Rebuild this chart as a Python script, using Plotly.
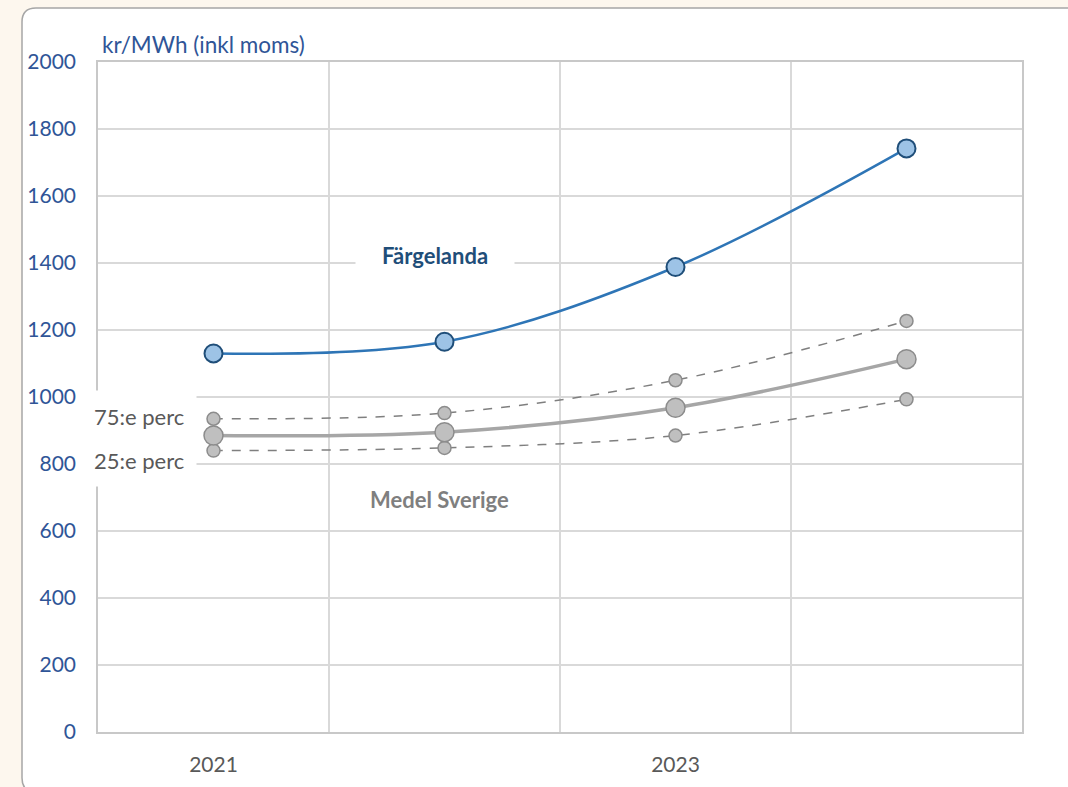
import plotly.graph_objects as go

# Electricity price, kr/MWh incl. VAT
years = [2021, 2022, 2023, 2024]
fargelanda = [1130, 1165, 1388, 1742]
medel_sverige = [885, 895, 968, 1113]
perc_75 = [935, 952, 1050, 1227]
perc_25 = [840, 848, 885, 993]

x_ticks = [2021, 2023]
x_tick_text = ["2021", "2023"]

FONT = "Lato"
BLUE_TEXT = "#2f5597"
GREY_TEXT = "#595959"

fig = go.Figure()

for vals in (perc_75, perc_25):
    fig.add_trace(go.Scatter(
        x=years, y=vals, mode="lines+markers",
        line=dict(color="#7f7f7f", width=1.5, dash="dash", shape="spline", smoothing=1),
        marker=dict(size=13, color="#bfbfbf", line=dict(color="#8c8c8c", width=1.5)),
        hoverinfo="skip", showlegend=False,
    ))

fig.add_trace(go.Scatter(
    x=years, y=medel_sverige, mode="lines+markers", name="Medel Sverige",
    line=dict(color="#a6a6a6", width=3.5, shape="spline", smoothing=1),
    marker=dict(size=19, color="#bfbfbf", line=dict(color="#8c8c8c", width=1.5)),
    showlegend=False,
))

fig.add_trace(go.Scatter(
    x=years, y=fargelanda, mode="lines+markers", name="Färgelanda",
    line=dict(color="#2e75b6", width=2.5, shape="spline", smoothing=1),
    marker=dict(size=18, color="#9dc3e6", line=dict(color="#1f4e79", width=2)),
    showlegend=False,
))

# Rounded white panel behind the chart
L, R, T, B = 98, 46, 62, 55
W, H = 1068, 787
pw, ph = W - L - R, H - T - B
def px(xp):
    return (xp - L) / pw
def py(yp):
    return (H - B - yp) / ph
x0, xr = px(22), px(1100)
yt, yb = py(8), py(792)
rx, ry = 14 / pw, 14 / ph
panel = (f"M {x0+rx},{yt} L {xr},{yt} L {xr},{yb} L {x0+rx},{yb} "
         f"Q {x0},{yb} {x0},{yb+ry} L {x0},{yt-ry} Q {x0},{yt} {x0+rx},{yt} Z")

fig.update_layout(
    width=W, height=H,
    margin=dict(l=L, r=R, t=T, b=B, pad=0, autoexpand=False),
    paper_bgcolor="#fdf7ee",
    plot_bgcolor="#ffffff",
    font=dict(family=FONT, size=22, color=GREY_TEXT),
    shapes=[dict(type="path", path=panel, xref="paper", yref="paper",
                 fillcolor="#ffffff", line=dict(color="#a6a6a6", width=1.5),
                 layer="below")],
    xaxis=dict(
        range=[2020.5, 2024.5], tickvals=x_ticks, ticktext=x_tick_text,
        showgrid=False, zeroline=False, ticks="", automargin=False,
        showline=True, linecolor="#c8c8c8", linewidth=1.5, mirror=True,
        tickfont=dict(family=FONT, size=21, color=GREY_TEXT),
        ticklabelstandoff=13,
        minor=dict(tickvals=[2020.5, 2021.5, 2022.5, 2023.5, 2024.5],
                   showgrid=True, gridcolor="#d9d9d9", gridwidth=1.5, ticks=""),
    ),
    yaxis=dict(
        range=[0, 2000], dtick=200, tick0=0, automargin=False,
        showgrid=True, gridcolor="#d9d9d9", gridwidth=1.5, zeroline=False,
        showline=True, linecolor="#c8c8c8", linewidth=1.5, mirror=True,
        ticks="", tickfont=dict(family=FONT, size=21, color=BLUE_TEXT),
        ticklabelstandoff=16,
    ),
    annotations=[
        dict(text="kr/MWh (inkl moms)", xref="paper", yref="paper",
             x=px(100), y=py(44), xanchor="left", yanchor="middle", showarrow=False,
             font=dict(family=FONT, size=22.5, color=BLUE_TEXT)),
        dict(text="<b>Färgelanda</b>", xref="x", yref="y", x=2021.96, y=1421,
             showarrow=False, bgcolor="#ffffff", borderpad=26,
             font=dict(family=FONT, size=22, color="#1f4e79")),
        dict(text="<b>Medel Sverige</b>", xref="x", yref="y", x=2021.98, y=693,
             showarrow=False, font=dict(family=FONT, size=22, color="#7f7f7f")),
        dict(text="75:e perc", xref="x", yref="y", x=2020.93, y=942,
             xanchor="right", showarrow=False, bgcolor="#ffffff", borderpad=12,
             font=dict(family=FONT, size=22, color=GREY_TEXT)),
        dict(text="25:e perc", xref="x", yref="y", x=2020.93, y=810,
             xanchor="right", showarrow=False, bgcolor="#ffffff", borderpad=12,
             font=dict(family=FONT, size=22, color=GREY_TEXT)),
    ],
)

fig.write_html("out.html")
